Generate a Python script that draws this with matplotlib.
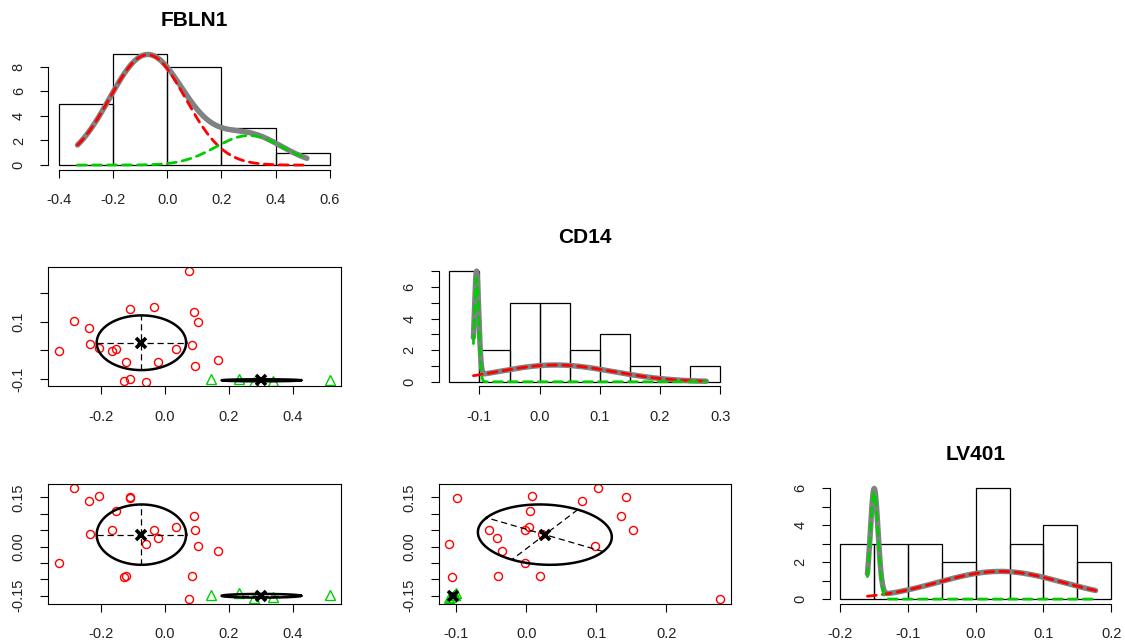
import numpy as np
import matplotlib
matplotlib.use("Agg")
import matplotlib.pyplot as plt

plt.rcParams['font.family'] = ['Liberation Sans', 'DejaVu Sans']

# ---------------- data ----------------
variables = ["FBLN1", "CD14", "LV401"]

FBLN1 = [0.075, -0.284, -0.2375, -0.331, -0.234, -0.204, -0.164, -0.152, -0.107,
         -0.034, -0.121, -0.0197, 0.0366, 0.084, 0.093, 0.103, 0.096, 0.166,
         -0.128, -0.107, -0.058,
         0.145, 0.231, 0.280, 0.339, 0.516]
CD14 = [0.277, 0.103, 0.079, -0.002, 0.023, 0.008, -0.002, 0.005, 0.143,
        0.153, -0.041, -0.042, 0.004, 0.019, 0.135, 0.098, -0.054, -0.035,
        -0.106, -0.099, -0.110,
        -0.1015, -0.1005, -0.110, -0.108, -0.104]
LV401 = [-0.160, 0.177, 0.140, -0.049, 0.037, 0.154, 0.051, 0.1075, 0.1495,
         0.0495, -0.089, 0.027, 0.061, -0.089, 0.092, 0.002, 0.0498, -0.013,
         -0.092, 0.149, 0.007,
         -0.149, -0.141, -0.157, -0.155, -0.148]
cluster = [1] * 21 + [2] * 5

# within-cluster correlations used for the ellipses
corr_pairs = [("FBLN1", "CD14"), ("FBLN1", "LV401"), ("CD14", "LV401")]
cluster1_corr = [0.0, 0.0, -0.08]
cluster2_corr = [0.0, 0.0, 0.0]

hist_breaks = {
    "FBLN1": [-0.4, -0.2, 0.0, 0.2, 0.4, 0.6],
    "CD14": [-0.15, -0.1, -0.05, 0.0, 0.05, 0.1, 0.15, 0.2, 0.25, 0.3],
    "LV401": [-0.2, -0.15, -0.1, -0.05, 0.0, 0.05, 0.1, 0.15, 0.2],
}
hist_xticks = {
    "FBLN1": ([-0.4, -0.2, 0.0, 0.2, 0.4, 0.6], ["-0.4", "-0.2", "0.0", "0.2", "0.4", "0.6"]),
    "CD14": ([-0.1, 0.0, 0.1, 0.2, 0.3], ["-0.1", "0.0", "0.1", "0.2", "0.3"]),
    "LV401": ([-0.2, -0.1, 0.0, 0.1, 0.2], ["-0.2", "-0.1", "0.0", "0.1", "0.2"]),
}
hist_yticks = {
    "FBLN1": ([0, 2, 4, 6, 8], ["0", "2", "4", "6", "8"]),
    "CD14": ([0, 1, 2, 3, 4, 5, 6, 7], ["0", "", "2", "", "4", "", "6", ""]),
    "LV401": ([0, 1, 2, 3, 4, 5, 6], ["0", "", "2", "", "4", "", "6"]),
}
scatter_xticks = {
    "FBLN1": ([-0.2, 0.0, 0.2, 0.4], ["-0.2", "0.0", "0.2", "0.4"]),
    "CD14": ([-0.1, 0.0, 0.1, 0.2], ["-0.1", "0.0", "0.1", "0.2"]),
}
scatter_yticks = {
    "CD14": ([-0.1, 0.0, 0.1, 0.2], ["-0.1", "", "0.1", ""]),
    "LV401": ([-0.15, -0.1, -0.05, 0.0, 0.05, 0.1, 0.15],
              ["-0.15", "", "", "0.00", "", "", "0.15"]),
}

cluster_colors = {1: "#FF0000", 2: "#00CD00"}
cluster_markers = {1: "o", 2: "^"}

# ---------------- layout ----------------
W, H = 1125, 644
col_left = [48.0, 438.5, 829.5]
col_w = 292.5
row_top = [50.0, 266.7, 484.0]
row_h = 119.5

data = {"FBLN1": np.array(FBLN1), "CD14": np.array(CD14), "LV401": np.array(LV401)}
cl = np.array(cluster)
groups = sorted(set(cluster))
corr_by_cluster = {1: cluster1_corr, 2: cluster2_corr}

fig = plt.figure(figsize=(W / 100, H / 100), dpi=100)
fig.patch.set_facecolor("white")


def add_ax(r, c):
    return fig.add_axes([col_left[c] / W, 1 - (row_top[r] + row_h) / H, col_w / W, row_h / H])


def style_ticks(ax, xt, yt):
    ax.set_xticks(xt[0])
    ax.set_xticklabels(xt[1])
    ax.set_yticks(yt[0])
    ax.set_yticklabels(yt[1])
    ax.tick_params(axis="both", direction="out", length=6, width=0.8, labelsize=10.5,
                   color="black", labelcolor="#222222")
    ax.tick_params(axis="x", pad=11)
    ax.tick_params(axis="y", pad=10)
    for lab in ax.get_yticklabels():
        lab.set_rotation(90)
        lab.set_va("center")
        lab.set_ha("right")


def right_closed_counts(x, breaks):
    idx = np.searchsorted(breaks, x, side="left") - 1
    idx = np.clip(idx, 0, len(breaks) - 2)
    return np.bincount(idx, minlength=len(breaks) - 1)


def gauss(x, m, s):
    return np.exp(-0.5 * ((x - m) / s) ** 2) / (np.sqrt(2 * np.pi) * s)


def pair_corr(g, a, b):
    for (p, q), r in zip(corr_pairs, corr_by_cluster[g]):
        if (p, q) == (a, b) or (q, p) == (a, b):
            return r
    return 0.0


# ---------------- diagonal histograms ----------------
for i, v in enumerate(variables):
    ax = add_ax(i, i)
    x = data[v]
    br = np.array(hist_breaks[v])
    counts = right_closed_counts(x, br)
    maxc = counts.max()
    rng = br[-1] - br[0]
    ax.set_xlim(br[0] - 0.04 * rng, br[-1] + 0.04 * rng)
    ax.set_ylim(-0.04 * maxc, 1.04 * maxc)
    ax.bar(br[:-1], counts, width=np.diff(br), align="edge", fill=False,
           edgecolor="black", linewidth=0.9)
    grid = np.linspace(x.min(), x.max(), 500)
    comps = []
    for g in groups:
        xg = x[cl == g]
        w = len(xg) / len(x)
        comps.append(w * gauss(grid, xg.mean(), xg.std()))
    total = np.sum(comps, axis=0)
    scale = maxc / total.max()
    ax.plot(grid, total * scale, color="#7F8282", lw=3.9, solid_capstyle="round", zorder=3)
    for g, comp in zip(groups, comps):
        ax.plot(grid, comp * scale, color=cluster_colors[g], lw=2.0,
                linestyle=(0, (3.2, 2.2)), dash_capstyle="round", zorder=4)
    for s in ["top", "right"]:
        ax.spines[s].set_visible(False)
    xt, yt = hist_xticks[v], hist_yticks[v]
    ax.spines["bottom"].set_bounds(xt[0][0], xt[0][-1])
    ax.spines["left"].set_bounds(yt[0][0], yt[0][-1])
    for s in ["bottom", "left"]:
        ax.spines[s].set_linewidth(0.8)
    style_ticks(ax, xt, yt)
    ax.set_title(v, fontsize=15, fontweight="bold", pad=17)

# ---------------- lower scatter plots ----------------
for i in range(3):
    for j in range(i):
        vx, vy = variables[j], variables[i]
        ax = add_ax(i, j)
        x, y = data[vx], data[vy]
        rx = x.max() - x.min()
        ry = y.max() - y.min()
        ax.set_xlim(x.min() - 0.04 * rx, x.max() + 0.04 * rx)
        ax.set_ylim(y.min() - 0.04 * ry, y.max() + 0.04 * ry)
        for g in groups:
            m = cl == g
            ax.plot(x[m], y[m], linestyle="none", marker=cluster_markers[g],
                    markersize=5.8 if g == 1 else 7.0, markerfacecolor="none",
                    markeredgecolor=cluster_colors[g], markeredgewidth=1.0, zorder=2)
        for g in groups:
            m = cl == g
            xs, ys = x[m], y[m]
            mu = np.array([xs.mean(), ys.mean()])
            sx, sy = xs.std(), ys.std()
            r = pair_corr(g, vx, vy)
            cov = np.array([[sx * sx, r * sx * sy], [r * sx * sy, sy * sy]])
            evals, evecs = np.linalg.eigh(cov)
            order = np.argsort(evals)[::-1]
            evals, evecs = evals[order], evecs[:, order]
            s = np.sqrt(evals)
            t = np.linspace(0, 2 * np.pi, 200)
            ell = mu[:, None] + evecs @ np.vstack([s[0] * np.cos(t), s[1] * np.sin(t)])
            ax.plot(ell[0], ell[1], color="black", lw=1.8, zorder=3)
            for k in range(2):
                p0 = mu - s[k] * evecs[:, k]
                p1 = mu + s[k] * evecs[:, k]
                ax.plot([p0[0], p1[0]], [p0[1], p1[1]], color="black", lw=0.9,
                        linestyle=(0, (5, 3)), zorder=3)
            ax.plot([mu[0]], [mu[1]], marker="x", color="black", markersize=7.5,
                    markeredgewidth=2.6, zorder=4)
        for s_ in ax.spines.values():
            s_.set_linewidth(0.8)
        style_ticks(ax, scatter_xticks[vx], scatter_yticks[vy])

fig.savefig("out.png", dpi=100, facecolor="white")
